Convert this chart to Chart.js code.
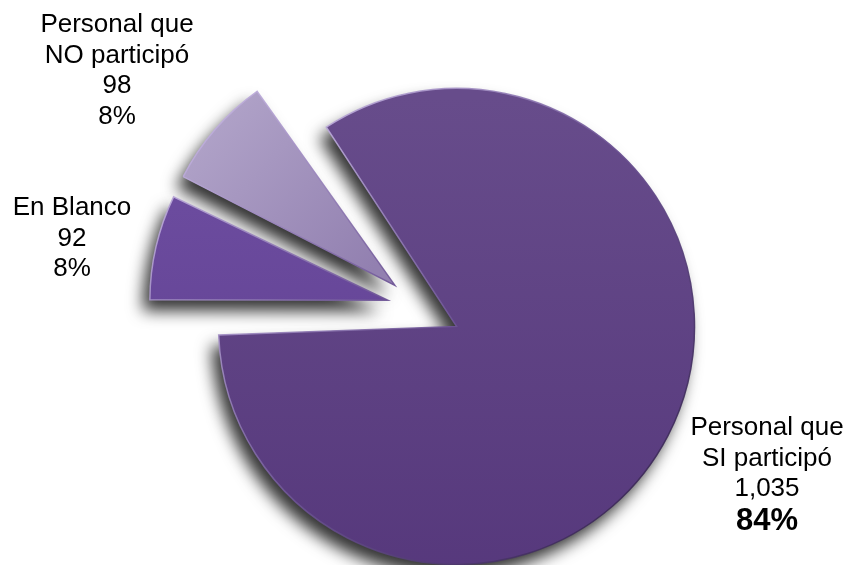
<!DOCTYPE html>
<html>
<head>
<meta charset="utf-8">
<script src="https://cdn.jsdelivr.net/npm/chart.js@4.4.1/dist/chart.umd.min.js"></script>
<style>
  html, body { margin: 0; padding: 0; background: #fff; }
  #wrap { width: 848px; height: 565px; }
</style>
</head>
<body>
<div id="wrap"><canvas id="pie" width="848" height="565"></canvas></div>
<script>
// datos
const categories = [['Personal que', 'SI participó'], ['En Blanco'], ['Personal que', 'NO participó']];
const values = [1035, 92, 98];

// posiciones de las etiquetas (centro x, primera linea base)
const labelAnchors = [{ x: 767, y: 435 }, { x: 72, y: 215 }, { x: 117, y: 32 }];

const canvas = document.getElementById('pie');
const ctx = canvas.getContext('2d');

function vGrad(top, bottom) {
  const g = ctx.createLinearGradient(0, 80, 0, 565);
  g.addColorStop(0, top);
  g.addColorStop(1, bottom);
  return g;
}

const fills = [
  vGrad('rgb(103,76,139)', 'rgb(86,56,124)'),
  vGrad('rgb(112,80,164)', 'rgb(94,62,142)'),
  ctx.createLinearGradient(180, 90, 400, 290)
];
fills[2].addColorStop(0, 'rgb(186,174,208)');
fills[2].addColorStop(1, 'rgb(146,128,176)');

const edge = ctx.createLinearGradient(200, 90, 700, 560);
edge.addColorStop(0, 'rgba(214,200,240,0.95)');
edge.addColorStop(0.45, 'rgba(110,85,150,0.9)');
edge.addColorStop(1, 'rgba(35,20,55,0.95)');

// Chart.js v4 divide el offset por 4 y agranda el radio; se compensa aqui
const explodeFix = {
  id: 'explodeFix',
  afterDatasetsUpdate(chart) {
    chart.getDatasetMeta(0).data.forEach(arc => {
      const off = (arc.options.offset || 0) / 4;
      const fix = 1 - Math.sin(Math.min(Math.PI, arc.circumference || 0));
      arc.outerRadius = Math.max(arc.outerRadius - off * fix, 0);
    });
  }
};

// sombra solo del relleno
const shadow = {
  id: 'shadow',
  beforeDatasetsDraw(chart) {
    const c = chart.ctx;
    c.save();
    c.shadowColor = 'rgba(0,0,0,0.8)';
    c.shadowBlur = 16;
    c.shadowOffsetX = -7;
    c.shadowOffsetY = 11;
    chart.getDatasetMeta(0).data.forEach(arc => {
      const orig = arc.options;
      arc.options = Object.assign({}, orig, { borderWidth: 0 });
      arc.draw(c);
      arc.options = orig;
    });
    c.restore();
  }
};

const sliceLabels = {
  id: 'sliceLabels',
  afterDraw(chart) {
    const c = chart.ctx;
    const total = values.reduce((a, b) => a + b, 0);
    c.save();
    c.fillStyle = '#000';
    c.textAlign = 'center';
    c.textBaseline = 'alphabetic';
    values.forEach((v, i) => {
      const pos = labelAnchors[i];
      const lines = categories[i].concat([v.toLocaleString('en-US')]);
      let y = pos.y;
      c.font = '26px "Liberation Sans", Arial, sans-serif';
      lines.forEach(t => { c.fillText(t, pos.x, y); y += 30.5; });
      const pct = Math.round(v / total * 100) + '%';
      if (i === 0) {
        c.font = 'bold 31px "Liberation Sans", Arial, sans-serif';
        y += 3;
      }
      c.fillText(pct, pos.x, y);
    });
    c.restore();
  }
};

new Chart(ctx, {
  type: 'pie',
  data: {
    labels: categories.map(l => l.join(' ')),
    datasets: [{
      data: values,
      backgroundColor: fills,
      borderColor: edge,
      borderWidth: 1.5,
      borderJoinStyle: 'miter',
      offset: [160, 136, 138],
      rotation: 325.3,
      radius: 238
    }]
  },
  options: {
    responsive: false,
    animation: false,
    events: [],
    layout: { padding: { left: 0, right: 6, top: 51, bottom: 0 } },
    plugins: { legend: { display: false }, tooltip: { enabled: false } }
  },
  plugins: [explodeFix, shadow, sliceLabels]
});
</script>
</body>
</html>
